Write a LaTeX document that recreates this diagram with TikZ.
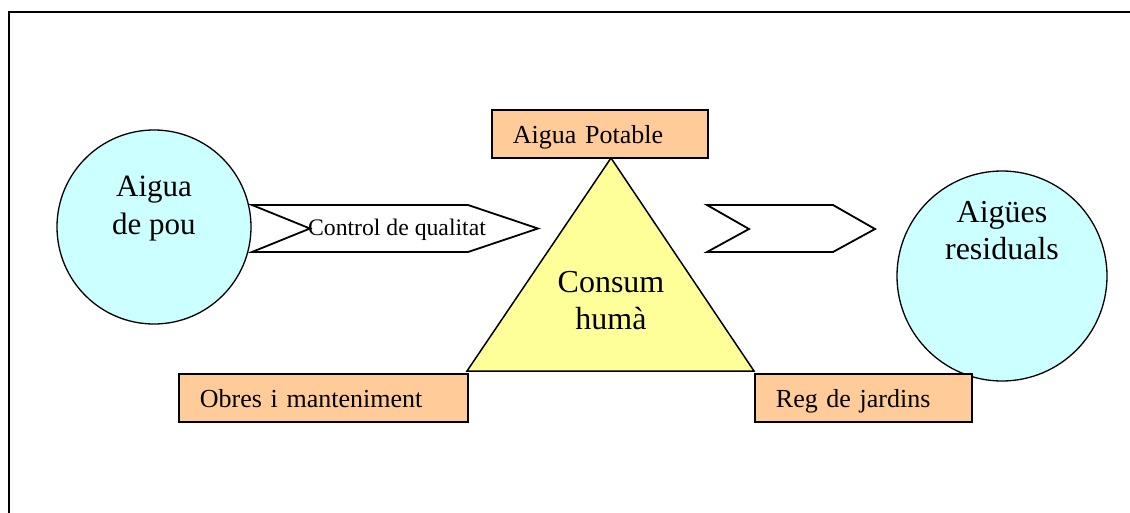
\documentclass[tikz,border=0pt]{standalone}
\usepackage{fontspec}
\setmainfont{Liberation Serif}
\definecolor{pool}{HTML}{CCFFFF}
\definecolor{peach}{HTML}{FFCC99}
\definecolor{lemon}{HTML}{FFFF99}
\begin{document}
\begin{tikzpicture}[x=1pt,y=-1pt,
  frame/.style={line width=2pt},
  basin/.style={circle, draw, line width=1.3pt, fill=pool, inner sep=0pt},
  tag/.style={draw, line width=1.8pt, fill=peach, anchor=north west,
    minimum height=48pt, inner xsep=21pt, text height=21pt, text depth=2pt,
    font=\fontsize{26}{30}\selectfont, align=left},
  flow/.style={draw, line width=1.8pt, fill=white, line join=miter},
  big/.style={font=\fontsize{32}{37}\selectfont, align=center, anchor=base},
]
\useasboundingbox (0,0) rectangle (1130,512);
\clip (0,0) rectangle (1130,512);

% outer frame (only top and left edges fall inside the page)
\draw[frame] (8.5,600) -- (8.5,11.5) -- (1200,11.5);

% source and sink (base anchor sits on the last text line)
\node[basin, minimum size=194pt] (well) at (154,227) {};
\node[big, font=\fontsize{31}{38}\selectfont] (wellText) at (154,234) {Aigua\\de pou};
\node[basin, minimum size=210pt] (waste) at (1002,276) {};
\node[big] (wasteText) at (1002,259.5) {Aigües\\residuals};

% flow arrows
\coordinate (qa) at (252,205);
\coordinate (qb) at (468,205);
\coordinate (qc) at (538,228.5);
\coordinate (qd) at (468,252);
\coordinate (qe) at (252,252);
\coordinate (qf) at (310,228.5);
\draw[flow] (qa) -- (qb) -- (qc) -- (qd) -- (qe) -- (qf) -- cycle;
\node[font=\fontsize{23.7}{28}\selectfont, anchor=base] (quality) at (397,235) {Control de qualitat};

\coordinate (ra) at (707,205);
\coordinate (rb) at (833,205);
\coordinate (rc) at (875,229);
\coordinate (rd) at (833,252);
\coordinate (re) at (707,252);
\coordinate (rf) at (749,229);
\draw[flow] (ra) -- (rb) -- (rc) -- (rd) -- (re) -- (rf) -- cycle;

% consumption triangle
\coordinate (top) at (611,158);
\coordinate (left) at (467,371);
\coordinate (right) at (754,371);
\draw[fill=lemon, line width=1.5pt, line join=miter] (top) -- (left) -- (right) -- cycle;
\node[big] (consum) at (611,329) {Consum\\humà};

% uses
\node[tag, text width=174pt] (potable) at (491,109) {Aigua Potable};
\node[tag, text width=247pt] (obres) at (178,373) {Obres i manteniment};
\node[tag, text width=175pt] (reg) at (754,373) {Reg de jardins};
\end{tikzpicture}
\end{document}
